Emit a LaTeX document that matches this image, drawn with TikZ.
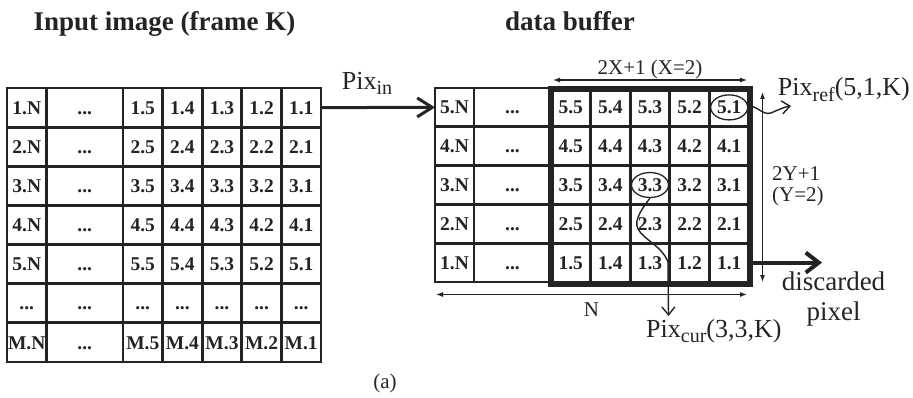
\documentclass[tikz,border=0pt]{standalone}
\usepackage{fontspec}
\setmainfont{Liberation Serif}
\usetikzlibrary{arrows.meta,shapes.geometric,calc}
\definecolor{ink}{HTML}{232323}
\definecolor{txt}{HTML}{242424}
\newcommand\cellfont{\bfseries\fontsize{19.5}{22}\selectfont}
\newcommand\titlefont{\bfseries\fontsize{27}{30}\selectfont}
\newcommand\labfont{\fontsize{26}{30}\selectfont}
\newcommand\dimfont{\fontsize{21}{21}\selectfont}
\newcommand\subtxt[1]{\raisebox{-5.5pt}{\fontsize{20}{20}\selectfont #1}}

\begin{document}
\begin{tikzpicture}[x=1pt,y=-1pt,text=txt,
  cell/.style={draw=ink,line width=2.9pt,inner sep=0pt,outer sep=0pt,font=\cellfont,
    text height=13.2pt,text depth=0pt},
  lcell/.style={cell,minimum height=39.143pt},
  rcell/.style={cell,minimum height=38.8pt},
  ring/.style={ellipse,draw=ink,line width=1.3pt,inner sep=0pt,minimum width=37pt,minimum height=25pt},
  feed/.style={draw=ink,line width=3pt,-{Straight Barb[length=15pt,width=19pt]}},
  dump/.style={draw=ink,line width=4pt,-{Straight Barb[length=13pt,width=20pt]}},
  pick/.style={draw=ink,line width=1.4pt,-{Straight Barb[length=8pt,width=13pt]}},
  dim/.style={draw=ink,line width=1.1pt,{Latex[length=7pt,width=5pt]}-{Latex[length=7pt,width=5pt]}},
  lab/.style={inner sep=0pt,font=\labfont},
  dimlab/.style={inner sep=0pt,font=\dimfont}]
\useasboundingbox (0,0) rectangle (913,398);

% titles
\node[anchor=base,inner sep=0pt,font=\titlefont] (title-in) at (164.5,30.7) {Input image (frame K)};
\node[anchor=base west,inner sep=0pt,font=\titlefont] (title-buf) at (505,30.7) {data buffer};

% input image: rows 1..5
\foreach \r [count=\i from 0] in {1,2,3,4,5} {
  \pgfmathsetmacro\yc{88+39.143*\i+19.571}
  \node[lcell,minimum width=39.5pt] (L\r-N) at (26.75,\yc) {\r.N};
  \node[lcell,minimum width=76.5pt] (L\r-d) at (84.75,\yc) {...};
  \foreach \c [count=\k from 0] in {5,4,3,2,1} {
    \pgfmathsetmacro\xc{123+39.6*\k+19.8}
    \node[lcell,minimum width=39.6pt] (L\r-\c) at (\xc,\yc) {\r.\c};
  }
}
% input image: elided rows and last row M
\pgfmathsetmacro\yd{88+39.143*5+19.571}
\pgfmathsetmacro\ym{88+39.143*6+19.571}
\node[lcell,minimum width=39.5pt] (Ld-N) at (26.75,\yd) {...};
\node[lcell,minimum width=76.5pt] (Ld-d) at (84.75,\yd) {...};
\node[lcell,minimum width=39.5pt] (LM-N) at (26.75,\ym) {M.N};
\node[lcell,minimum width=76.5pt] (LM-d) at (84.75,\ym) {...};
\foreach \c [count=\k from 0] in {5,4,3,2,1} {
  \pgfmathsetmacro\xc{123+39.6*\k+19.8}
  \node[lcell,minimum width=39.6pt] (Ld-\c) at (\xc,\yd) {...};
  \node[lcell,minimum width=39.6pt] (LM-\c) at (\xc,\ym) {M.\c};
}

% data buffer
\foreach \r [count=\i from 0] in {5,4,3,2,1} {
  \pgfmathsetmacro\yc{88+38.8*\i+19.4}
  \node[rcell,minimum width=39pt] (R\r-N) at (454.5,\yc) {\r.N};
  \node[rcell,minimum width=77pt] (R\r-d) at (512.5,\yc) {...};
  \foreach \c [count=\k from 0] in {5,4,3,2,1} {
    \pgfmathsetmacro\xc{551+39.6*\k+19.8}
    \node[rcell,minimum width=39.6pt] (R\r-\c) at (\xc,\yc) {\r.\c};
  }
}
% search window frame
\draw[ink,line width=6pt] (551,89.5) rectangle (749.5,283.5);

% marked pixels
\node[ring] (ref) at (R5-1) {};
\node[ring] (cur) at (R3-3) {};

% free ends of the connectors
\coordinate (reftip) at (791,106);
\coordinate (curtip) at (668.5,316);
\coordinate (disctip) at ($(R1-1.east)+(73,0)$);
\coordinate (xa) at (553,80);
\coordinate (xb) at (747,80);
\coordinate (na) at (436,294.5);
\coordinate (nb) at (747,294.5);
\coordinate (ya) at (762.5,92);
\coordinate (yb) at (762.5,282);

% data flow
\draw[feed] (L1-1.east) -- (R5-N.west);
\draw[dump] (R1-1.east) -- (disctip);
\draw[pick] (ref.east) .. controls (755,103) and (762,116) .. (771,113)
  .. controls (778,110) and (784,107) .. (reftip);
\draw[pick] (cur.south) .. controls (644,206) and (633,220) .. (638,229)
  .. controls (644,240) and (662,246) .. (668,262) -- (curtip);

% dimensions
\draw[dim] (xa) -- (xb);
\draw[dim] (na) -- (nb);
\draw[dim] (ya) -- (yb);

% labels
\node[lab,anchor=base west] (pix-in) at (341.7,89.3) {Pix\subtxt{in}};
\node[lab,anchor=base west] (pix-ref) at (777.7,96) {Pix\subtxt{ref}(5,1,K)};
\node[lab,anchor=base west] (pix-cur) at (646,337.3) {Pix\subtxt{cur}(3,3,K)};
\node[inner sep=0pt,anchor=north,align=center,font=\fontsize{27}{30}\selectfont] (disc) at (833.5,271.7) {discarded\\pixel};
\node[dimlab,anchor=base] (lab-x) at (650,75) {2X+1 (X=2)};
\node[dimlab,anchor=north west,align=left] (lab-y) at (772,166.5) {2Y+1\\(Y=2)};
\node[dimlab,anchor=base] (lab-n) at (591.5,316) {N};
\node[dimlab,anchor=base] (caption) at (385,388.3) {(a)};
\end{tikzpicture}
\end{document}
